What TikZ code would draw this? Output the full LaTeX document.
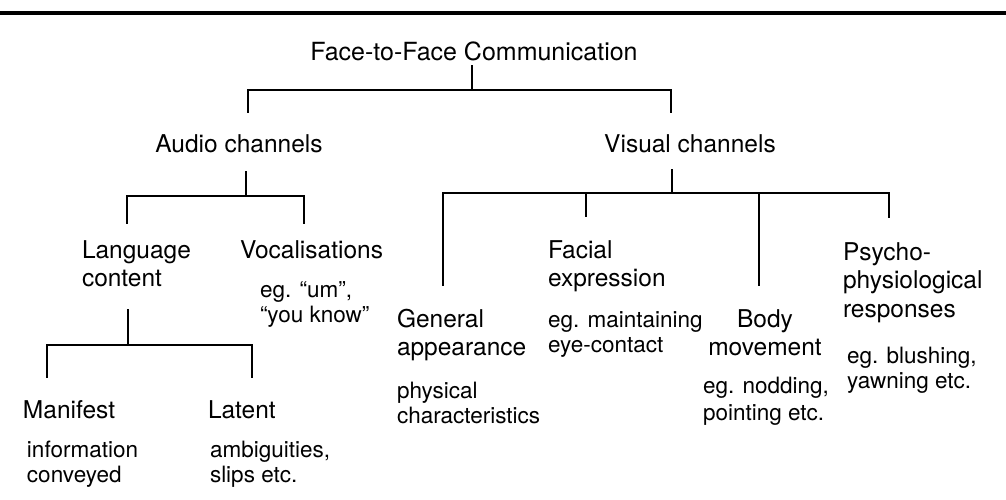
\documentclass[tikz,border=0pt]{standalone}
\usepackage{fontspec}
\setmainfont{TeX Gyre Heros}
\newcommand\mainsz{\fontsize{24.5}{28.5}\selectfont}
\newcommand\subsz{\fontsize{22.5}{25.5}\selectfont}
\newcommand\ltwo[1]{\begin{tabular}[t]{@{}l@{}}#1\end{tabular}}
\newcommand\ctwo[1]{\begin{tabular}[t]{@{}c@{}}#1\end{tabular}}
\begin{document}
\begin{tikzpicture}[x=1pt,y=-1pt,
  lab/.style={inner sep=0pt, outer sep=0pt, anchor=base west, font=\mainsz},
  sublab/.style={inner sep=0pt, outer sep=0pt, anchor=base west, font=\subsz},
  conn/.style={line width=1.8pt, line cap=rect},
  rule/.style={line width=3.5pt}]
\useasboundingbox (0,0) rectangle (1006,499);
% top rule
\coordinate (r1) at (0,13);
\coordinate (r2) at (1006,13);
\draw[rule] (r1) -- (r2);
% level 0
\node[lab, anchor=base, font=\fontsize{25}{29}\selectfont] (face) at (474,60) {Face-to-Face Communication};
% level 1
\node[lab, anchor=base] (audio) at (239,152) {Audio channels};
\node[lab, anchor=base] (visual) at (690,152) {Visual channels};
% audio children
\node[lab] (lang) at (82,258) {\ltwo{Language\\content}};
\node[lab] (voc) at (240,258) {Vocalisations};
\node[sublab] (vocx) at (260,297) {\ltwo{eg. “um”,\\“you know”}};
% language children
\node[lab] (man) at (23,418) {Manifest};
\node[sublab] (manx) at (27,457) {\ltwo{information\\conveyed}};
\node[lab] (lat) at (208,418) {Latent};
\node[sublab] (latx) at (210,457) {\ltwo{ambiguities,\\slips etc.}};
% visual children
\node[lab] (gen) at (397,327) {\ltwo{General\\appearance}};
\node[sublab] (genx) at (397,398) {\ltwo{physical\\characteristics}};
\node[lab] (fac) at (548,258) {\ltwo{Facial\\expression}};
\node[sublab] (facx) at (548,327) {\ltwo{eg. maintaining\\eye-contact}};
\node[lab, anchor=base] (bod) at (765,327) {\ctwo{Body\\movement}};
\node[sublab] (bodx) at (703,393) {\fontsize{22.5}{27}\selectfont\ltwo{eg. nodding,\\pointing etc.}};
\node[lab] (psy) at (843,260) {\ltwo{Psycho-\\physiological\\responses}};
\node[sublab] (psyx) at (847,363) {\ltwo{eg. blushing,\\yawning etc.}};
% connector points
\coordinate (face-s) at (472,66);
\coordinate (face-b) at (472,90);
\coordinate (audio-d) at (248,112);
\coordinate (visual-d) at (671,112);
\coordinate (audio-s) at (246,172);
\coordinate (audio-b) at (246,196);
\coordinate (lang-d) at (127,223);
\coordinate (voc-d) at (304,223);
\coordinate (lang-s) at (128,310);
\coordinate (lang-b) at (128,345);
\coordinate (man-d) at (47,377);
\coordinate (lat-d) at (252,377);
\coordinate (visual-s) at (672,170);
\coordinate (visual-b) at (672,193);
\coordinate (gen-d) at (443,285);
\coordinate (fac-d) at (586,216);
\coordinate (bod-d) at (759,285);
\coordinate (psy-d) at (889,217);
% connectors
\draw[conn] (face-s) -- (face-b);
\draw[conn] (audio-d) |- (face-b) -| (visual-d);
\draw[conn] (audio-s) -- (audio-b);
\draw[conn] (lang-d) |- (audio-b) -| (voc-d);
\draw[conn] (lang-s) -- (lang-b);
\draw[conn] (man-d) |- (lang-b) -| (lat-d);
\draw[conn] (visual-s) -- (visual-b);
\draw[conn] (gen-d) |- (visual-b) -| (psy-d);
\draw[conn] (fac-d) -- (fac-d |- visual-b);
\draw[conn] (bod-d) -- (bod-d |- visual-b);
\end{tikzpicture}
\end{document}
